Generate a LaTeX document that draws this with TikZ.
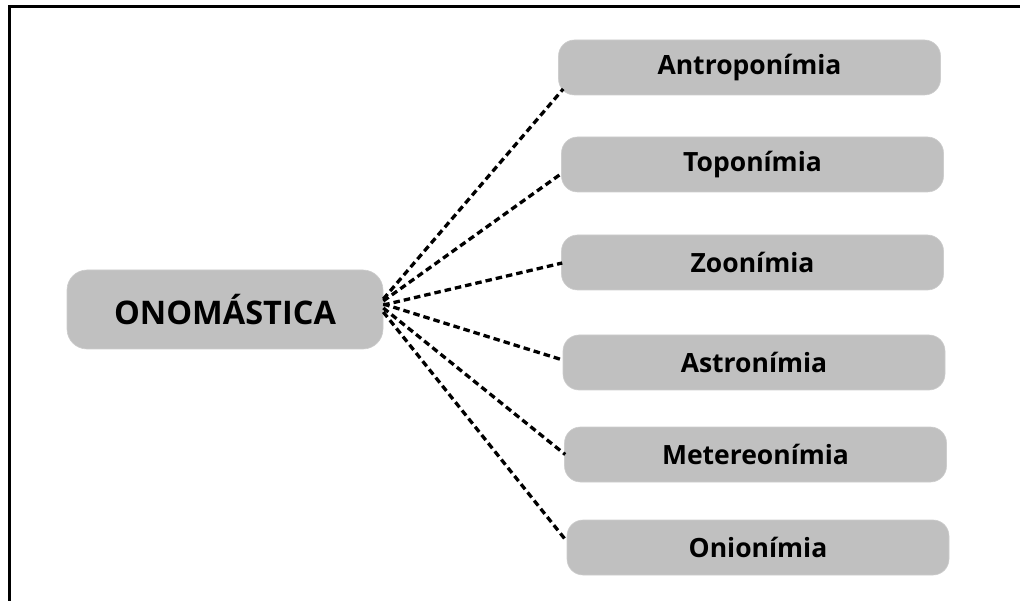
\documentclass[tikz,border=0pt]{standalone}
\usepackage{fontspec}
\setmainfont{Open Sans}
\usetikzlibrary{calc}
\definecolor{boxgray}{RGB}{192,192,192}
\begin{document}
\begin{tikzpicture}[x=1pt,y=-1pt,
  box/.style={fill=boxgray, draw=boxgray!80!white, line width=0.6pt, rounded corners=16pt, inner sep=0pt,
    minimum width=382pt, minimum height=55pt, font=\bfseries\fontsize{26.5}{31}\selectfont},
  hub/.style={box, rounded corners=20pt, minimum width=316pt, minimum height=79pt,
    font=\bfseries\fontsize{32.5}{38}\selectfont},
  link/.style={draw=black, line width=3.3pt, dash pattern=on 6.5pt off 4pt}]
\useasboundingbox (0,0) rectangle (1020,601);

% frame: top and left edges
\draw[line width=3.6pt] (1020,6.5) -- (9.5,6.5) -- (9.5,601);

% central term
\node[hub] (main) at (225,309.5) {ONOMÁSTICA};

% subareas
\node[box] (b1) at (749.5,67.5) {Antroponímia};
\node[box] (b2) at (752.5,164.5) {Toponímia};
\node[box] (b3) at (752.5,262.5) {Zoonímia};
\node[box] (b4) at (754,362.5) {Astronímia};
\node[box] (b5) at (755.5,454.5) {Metereonímia};
\node[box] (b6) at (758,547.5) {Onionímia};

% dashed links from the central term to each subarea
\draw[link] ($(main.east)+(0,-10.5)$) -- ($(b1.west)+(5,21.5)$);
\draw[link] ($(main.east)+(0,-8.5)$) -- ($(b2.west)+(1,8.5)$);
\draw[link] ($(main.east)+(0,-4.5)$) -- ($(b3.west)+(1,0.5)$);
\draw[link] ($(main.east)+(0,-5.5)$) -- ($(b4.west)+(0,-2.5)$);
\draw[link] ($(main.east)+(0,-1.5)$) -- ($(b5.west)+(1,0)$);
\draw[link] ($(main.east)+(0,2.5)$) -- ($(b6.west)+(-1,-7.5)$);
\end{tikzpicture}
\end{document}
